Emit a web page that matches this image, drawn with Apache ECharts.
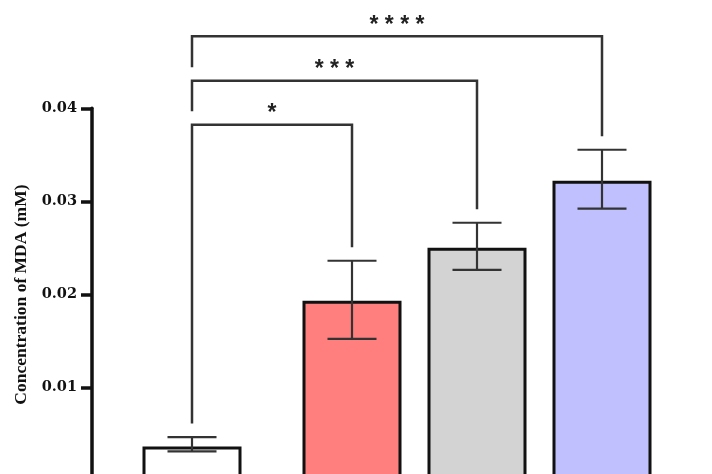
<!DOCTYPE html>
<html>
<head>
<meta charset="utf-8">
<script src="https://cdn.jsdelivr.net/npm/echarts@6/dist/echarts.min.js"></script>
<style>
  html, body { margin: 0; padding: 0; background: #fff; }
  #chart { width: 712px; height: 474px; }
</style>
</head>
<body>
<div id="chart"></div>
<script>
// Group names (not drawn; labels sit below the plotted area)
const groups = ['Control', 'Group A', 'Group B', 'Group C'];
// Mean MDA concentration (mM)
const meanMDA = [0.00368, 0.01933, 0.02503, 0.03222];
// Lower / upper ends of the error bars (mM)
const errLow = [0.00315, 0.01525, 0.02266, 0.02922];
const errHigh = [0.00469, 0.02363, 0.02771, 0.03555];
// Significance comparisons: [from, to, label]
const compareFrom = [0, 0, 0];
const compareTo = [1, 2, 3];
const compareLabels = ['*', '***', '****'];
// Bracket heights (mM)
const bracketLevels = [0.03824, 0.04297, 0.04774];
// Y axis ticks
const yTicks = [0, 0.01, 0.02, 0.03, 0.04];

// Slot of each group along the hidden horizontal axis (control sits a bit apart)
const slots = [0, 1.28, 2.28, 3.28];

const fills = ['#ffffff', '#ff7f7f', '#d3d3d3', '#c0c0ff'];
const serif = '"Liberation Serif", "Times New Roman", serif';
const LEG_GAP = 13.5;
const CAP_HALF = 24.5;

const chart = echarts.init(document.getElementById('chart'), null, { renderer: 'canvas' });

const barData = meanMDA.map((v, i) => ({
  value: [slots[i], v],
  name: groups[i],
  itemStyle: { color: fills[i] }
}));

const errData = meanMDA.map((v, i) => [slots[i], errLow[i], errHigh[i]]);
const bracketData = compareLabels.map((l, i) => [compareFrom[i], compareTo[i], i]);

chart.setOption({
  animation: false,
  backgroundColor: '#ffffff',
  grid: { left: 92, top: 108.3, width: 625, height: 372.5, outerBoundsMode: 'none', containLabel: false },
  xAxis: {
    type: 'value',
    min: -0.8,
    max: 4.2,
    show: false
  },
  yAxis: {
    type: 'value',
    min: yTicks[0],
    max: yTicks[yTicks.length - 1],
    interval: 0.01,
    splitLine: { show: false },
    axisLine: { show: true, onZero: false, lineStyle: { color: '#111', width: 3.5 } },
    axisTick: { show: true, length: 11, lineStyle: { color: '#111', width: 3.5 } },
    axisLabel: {
      margin: 15,
      color: '#111',
      fontFamily: '"DejaVu Serif", serif',
      fontWeight: 'bold',
      fontSize: 14.5,
      formatter: v => (v === 0 ? '' : v.toFixed(2))
    },
    name: 'Concentration of MDA (mM)',
    nameLocation: 'middle',
    nameGap: 61,
    nameRotate: 90,
    nameTextStyle: {
      color: '#111',
      fontFamily: serif,
      fontWeight: 'bold',
      fontSize: 17.5
    }
  },
  series: [
    {
      type: 'bar',
      data: barData,
      barWidth: 99,
      itemStyle: { borderColor: '#111', borderWidth: 3 },
      z: 2
    },
    {
      type: 'custom',
      data: errData,
      clip: false,
      z: 3,
      renderItem: (params, api) => {
        const x = api.coord([api.value(0), 0])[0];
        const yLo = api.coord([api.value(0), api.value(1)])[1];
        const yHi = api.coord([api.value(0), api.value(2)])[1];
        const style = { stroke: '#333', lineWidth: 2.2 };
        return {
          type: 'group',
          children: [
            { type: 'line', shape: { x1: x, y1: yLo, x2: x, y2: yHi }, style },
            { type: 'line', shape: { x1: x - CAP_HALF, y1: yHi, x2: x + CAP_HALF, y2: yHi }, style },
            { type: 'line', shape: { x1: x - CAP_HALF, y1: yLo, x2: x + CAP_HALF, y2: yLo }, style }
          ]
        };
      }
    },
    {
      type: 'custom',
      data: bracketData,
      clip: false,
      z: 4,
      renderItem: (params, api) => {
        const a = api.value(0), b = api.value(1), k = api.value(2);
        const xL = api.coord([slots[a], 0])[0];
        const xR = api.coord([slots[b], 0])[0];
        const yTop = api.coord([0, bracketLevels[k]])[1];
        const leftBelow = k === 0 ? errHigh[a] : bracketLevels[k - 1];
        const yLeft = api.coord([0, leftBelow])[1] - LEG_GAP;
        const yRight = api.coord([0, errHigh[b]])[1] - LEG_GAP;
        return {
          type: 'group',
          children: [
            {
              type: 'polyline',
              shape: { points: [[xL, yLeft], [xL, yTop], [xR, yTop], [xR, yRight]] },
              style: { stroke: '#333', lineWidth: 2.5, fill: null }
            },
            {
              type: 'text',
              style: {
                text: compareLabels[k].split('').join(' '),
                x: (xL + xR) / 2,
                y: yTop - 11,
                textAlign: 'center',
                textVerticalAlign: 'middle',
                font: 'bold 23px "Liberation Sans", Arial, sans-serif',
                fill: '#222'
              }
            }
          ]
        };
      }
    }
  ]
});
</script>
</body>
</html>
